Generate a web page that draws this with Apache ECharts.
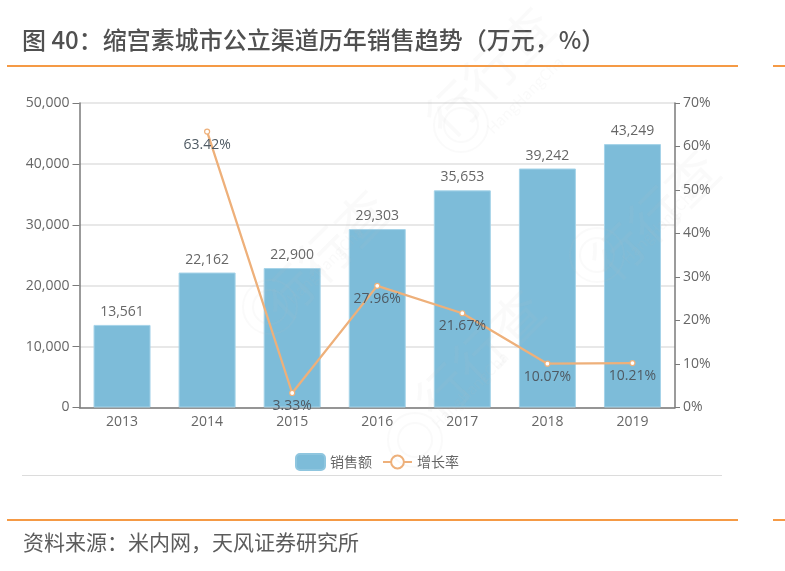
<!DOCTYPE html>
<html><head><meta charset="utf-8">
<style>html,body{margin:0;padding:0;background:#fff}#c{width:785px;height:571px}</style>
<script src="https://cdn.jsdelivr.net/npm/echarts@6/dist/echarts.min.js"></script>
</head><body><div id="c"></div>
<script>
const categories = ['2013','2014','2015','2016','2017','2018','2019'];
const salesValues = [13561,22162,22900,29303,35653,39242,43249];
const growthValues = [null,63.42,3.33,27.96,21.67,10.07,10.21];
const leftTicks = {min:0,max:50000,interval:10000};
const rightTicks = {min:0,max:70,interval:10};
const FONT = '"Open Sans","Noto Sans CJK SC",sans-serif';
const CJK = '"Noto Sans CJK SC",sans-serif';
const orange = '#f59a45', textGrey = '#666666', axisGrey = '#7a7a7a', lineColor = '#eeb07a';
const wmFill = 'rgba(190,190,190,0.08)';
const chart = echarts.init(document.getElementById('c'), null, {renderer:'canvas'});
function rule(x1,y1,x2,y2,color,w){return {type:'line',silent:true,shape:{x1,y1,x2,y2},style:{stroke:color,lineWidth:w}};}
function mark(x,y,size,text){return {type:'text',silent:true,x,y,rotation:Math.PI/4,z:50,style:{text,fill:wmFill,font:size+'px '+CJK,align:'center',verticalAlign:'middle'}};}
function ring(cx,cy,r){return {type:'circle',silent:true,z:50,shape:{cx,cy,r},style:{fill:'none',stroke:wmFill,lineWidth:2}};}
chart.setOption({
  animation:false,
  backgroundColor:'#fff',
  title:{text:'图 40：缩宫素城市公立渠道历年销售趋势（万元，%）',left:22,top:28,padding:0,
    textStyle:{fontFamily:CJK,fontSize:24,fontWeight:500,color:'#505050'}},
  graphic:[
    rule(7,66,738,66,orange,2),rule(773,66,785,66,orange,2),
    rule(7,520,738,520,orange,2),rule(773,520,785,520,orange,2),
    rule(22,475.5,722,475.5,'#dcdcdc',1),
    {type:'text',silent:true,left:23,top:532,style:{text:'资料来源：米内网，天风证券研究所',fill:'#5c5c5c',font:'21px '+CJK}},
    ring(461,125,27),ring(461,125,17),ring(597,255,27),ring(597,255,17),
    ring(270,307,27),ring(270,307,17),ring(415,440,27),ring(415,440,17),
    mark(490,72,52,'行行查'),mark(655,215,52,'行行查'),mark(325,255,52,'行行查'),mark(480,355,52,'行行查'),
    mark(525,95,15,'HangHangCha'),mark(660,225,15,'HangHangCha'),mark(325,265,15,'HangHangCha'),mark(470,390,15,'HangHangCha')
  ],
  grid:{left:79.5,right:110,top:103,bottom:163.5,containLabel:false},
  legend:{data:[{name:'销售额',itemStyle:{borderColor:'#8fc6df'}},'增长率'],left:295,top:453,padding:0,itemWidth:29,itemHeight:16,itemGap:10,
    textStyle:{fontFamily:CJK,fontSize:14,color:textGrey}},
  xAxis:{type:'category',data:categories,
    axisLine:{lineStyle:{color:axisGrey,width:1.5}},
    axisTick:{length:5,lineStyle:{color:'#555555'}},
    axisLabel:{fontFamily:FONT,fontSize:14,color:textGrey,margin:8}},
  yAxis:[
    {type:'value',...leftTicks,
      axisLine:{show:true,lineStyle:{color:axisGrey,width:1.5}},
      axisTick:{show:true,length:7,lineStyle:{color:axisGrey}},
      splitLine:{lineStyle:{color:'#e0e0e0',width:1.5}},
      axisLabel:{fontFamily:FONT,fontSize:14,color:textGrey,margin:10,
        formatter:v=>v.toLocaleString('en-US')}},
    {type:'value',...rightTicks,
      axisLine:{show:true,lineStyle:{color:axisGrey,width:1.5}},
      axisTick:{show:true,length:5,lineStyle:{color:axisGrey}},
      splitLine:{show:false},
      axisLabel:{fontFamily:FONT,fontSize:14,color:textGrey,margin:8,formatter:'{value}%'}}
  ],
  series:[
    {name:'销售额',type:'bar',data:salesValues,barWidth:'67%',
      itemStyle:{color:'#7dbcd9',borderColor:'#a5d3e8',borderWidth:1},
      label:{show:true,position:'top',distance:6,fontFamily:FONT,fontSize:14,color:textGrey,
        formatter:p=>p.value.toLocaleString('en-US')}},
    {name:'增长率',type:'line',yAxisIndex:1,data:growthValues,connectNulls:false,
      symbol:'circle',symbolSize:5,showAllSymbol:true,
      lineStyle:{color:lineColor,width:2.3},
      itemStyle:{color:'#fff',borderColor:lineColor,borderWidth:1.2},
      label:{show:true,position:'bottom',distance:3,fontFamily:FONT,fontSize:14,color:'#4f5a63',
        formatter:p=>p.value.toFixed(2)+'%'}}
  ]
});
</script></body></html>
